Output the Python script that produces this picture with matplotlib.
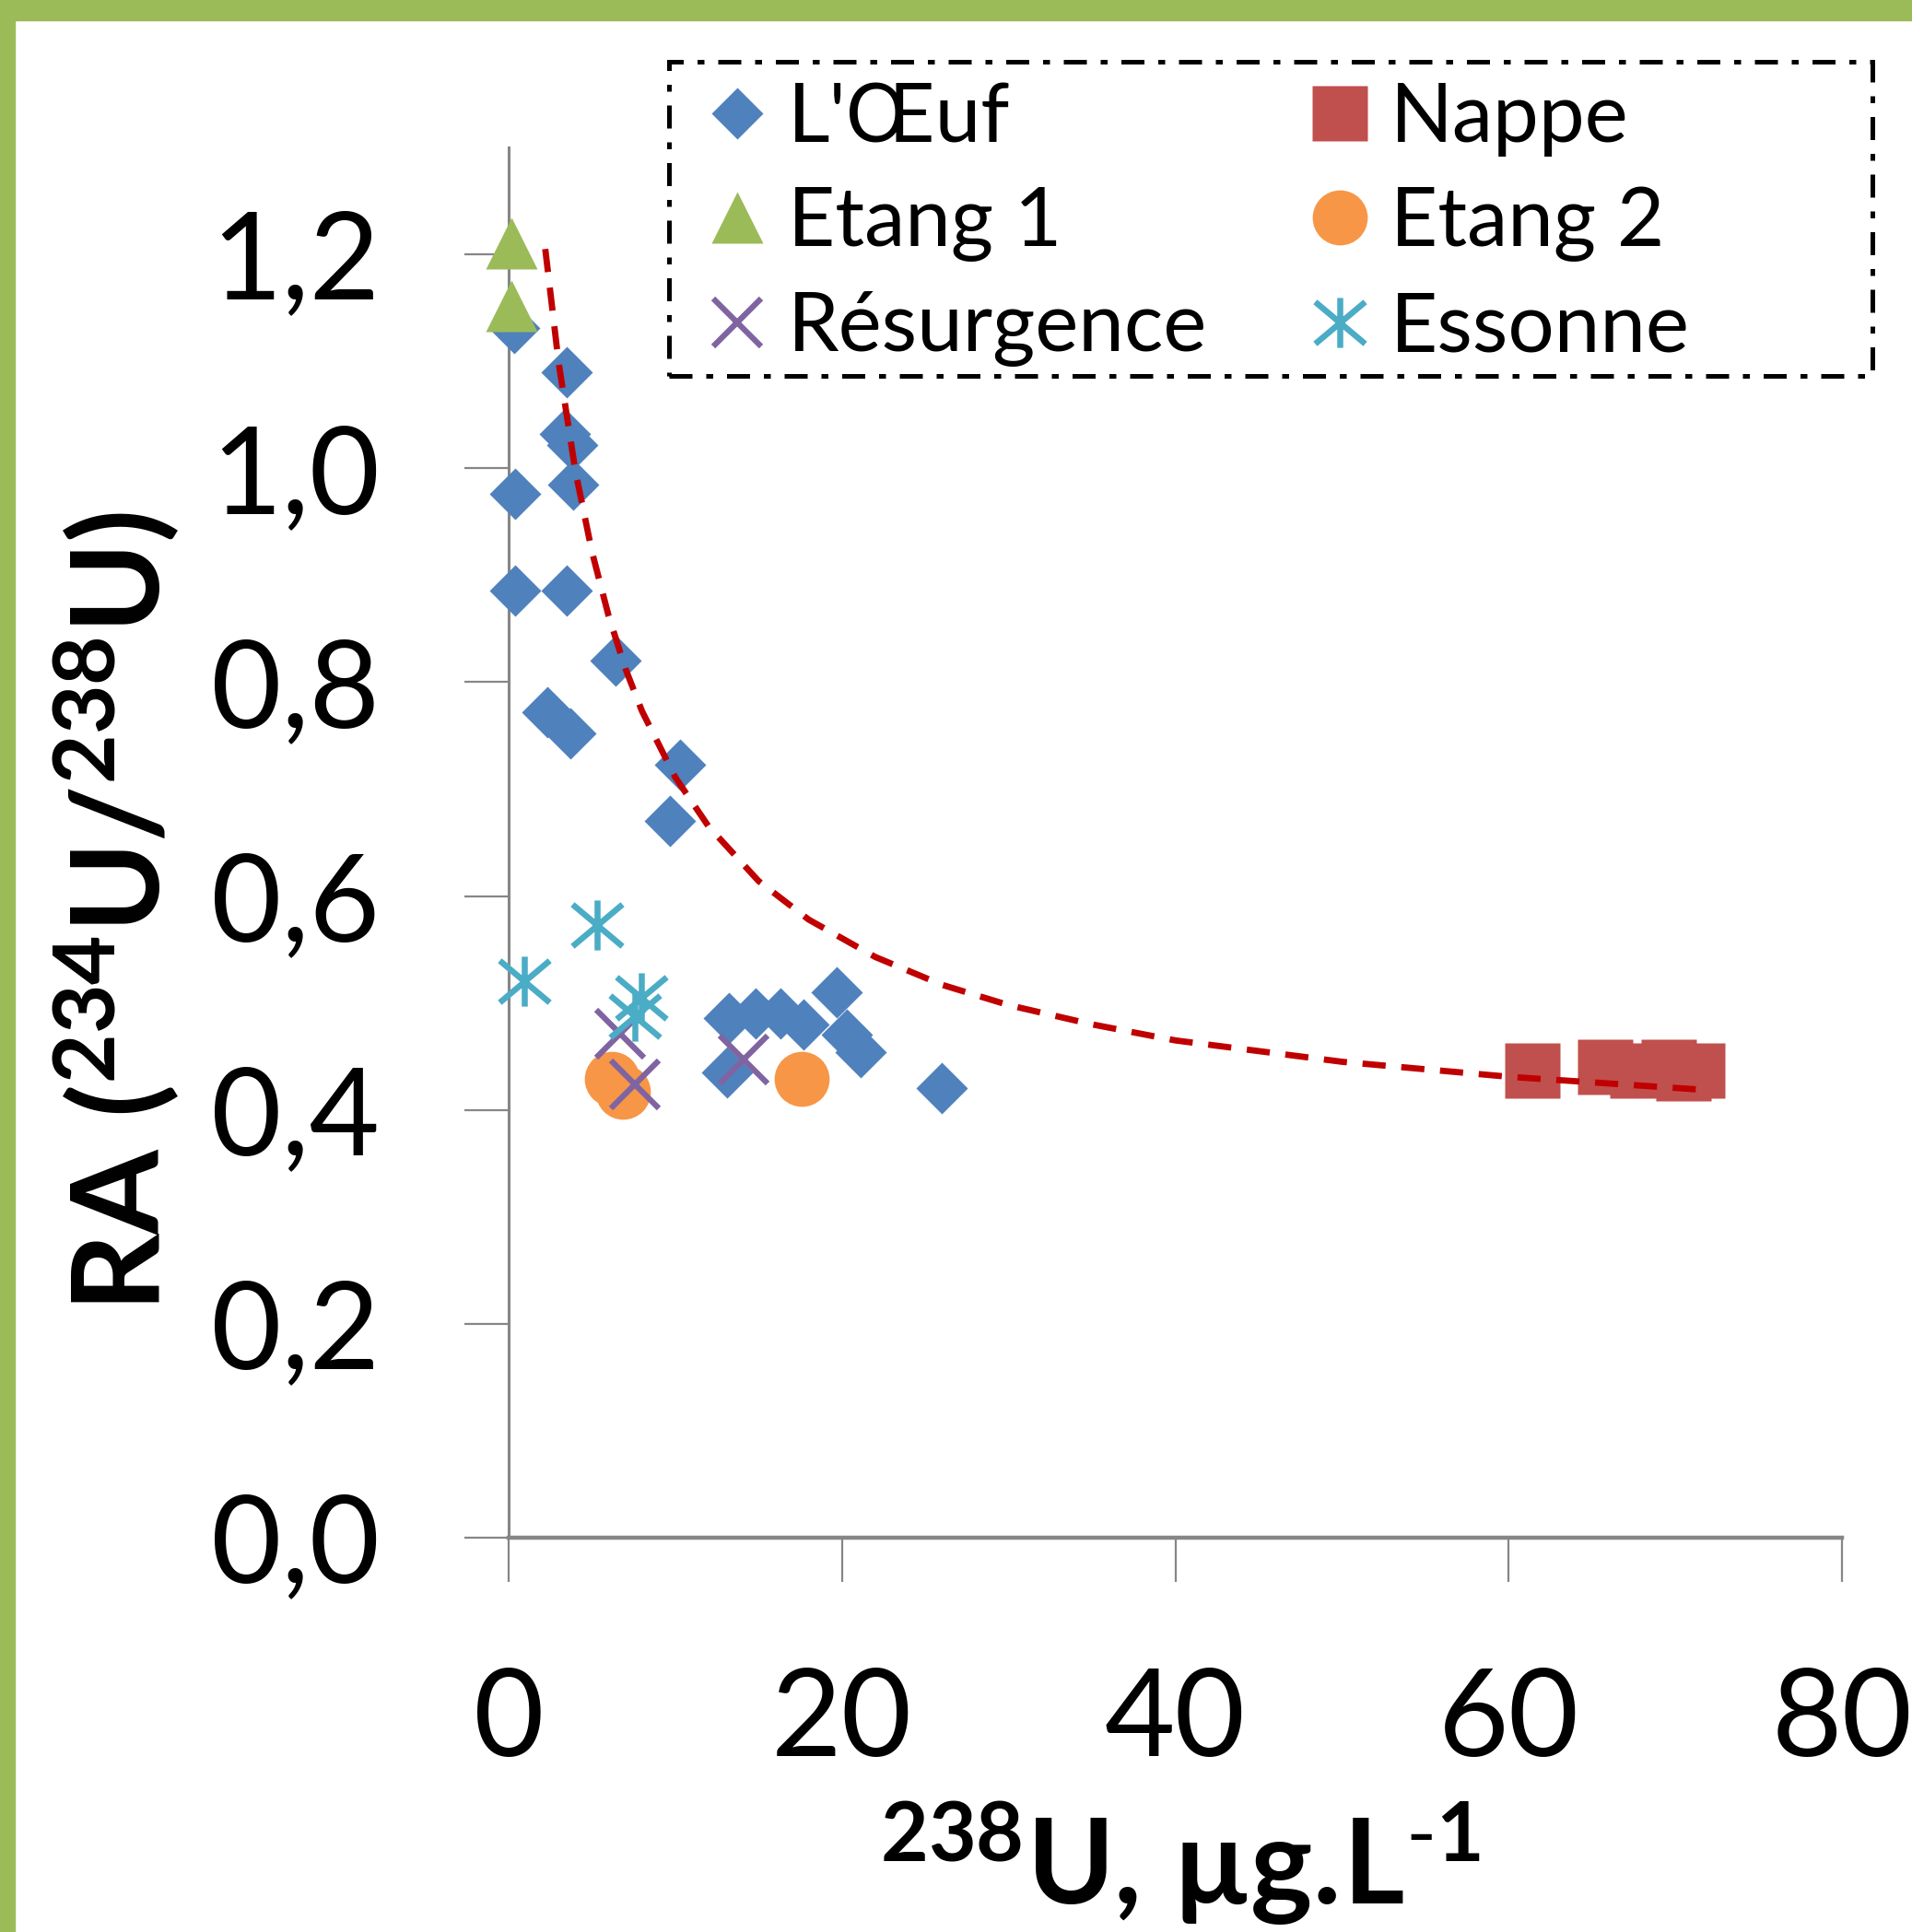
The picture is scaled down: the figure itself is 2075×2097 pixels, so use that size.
import matplotlib
matplotlib.use("Agg")
import matplotlib.pyplot as plt
from matplotlib.patches import Rectangle
from matplotlib.path import Path

plt.rcParams["font.family"] = ["Lato", "DejaVu Sans"]
plt.rcParams["mathtext.fontset"] = "custom"
plt.rcParams["mathtext.rm"] = "Lato"
plt.rcParams["mathtext.bf"] = "Lato:bold"
plt.rcParams["mathtext.it"] = "Lato:italic"

# values (x: 238U in ug/L, y: activity ratio)
oeuf_x = [0.33, 3.5, 3.4, 3.8, 3.9, 0.4, 0.4, 3.5, 6.4, 2.3, 3.7, 10.3, 9.7,
          13.2, 14.8, 16.3, 17.7, 19.7, 20.3, 21.1, 13.1, 26.0]
oeuf_y = [1.131, 1.09, 1.032, 1.022, 0.985, 0.976, 0.886, 0.886, 0.82, 0.772, 0.752, 0.723, 0.67,
          0.486, 0.49, 0.49, 0.48, 0.51, 0.47, 0.454, 0.435, 0.42]

nappe_x = [61.4, 65.8, 67.7, 69.6, 70.5, 71.3]
nappe_y = [0.437, 0.440, 0.437, 0.440, 0.434, 0.437]

etang1_x = [0.17, 0.17]
etang1_y = [1.21, 1.152]

etang2_x = [6.2, 6.85, 17.6]
etang2_y = [0.429, 0.417, 0.429]

resurg_x = [6.7, 7.55, 14.1]
resurg_y = [0.471, 0.424, 0.447]

essonne_x = [0.95, 5.3, 7.96, 7.55]
essonne_y = [0.520, 0.573, 0.505, 0.488]

# mixing curve, sampled along the dashed line
curve_x = [2.2, 3, 4, 5, 6, 7, 8, 10, 12, 15, 18, 22, 26, 30, 35, 40, 50, 60, 71.5]
curve_y = [1.205, 1.099, 0.998, 0.922, 0.862, 0.813, 0.773, 0.711, 0.665, 0.614,
           0.578, 0.543, 0.517, 0.498, 0.480, 0.465, 0.445, 0.431, 0.419]

x_ticks = [0, 20, 40, 60, 80]
y_ticks = [0.0, 0.2, 0.4, 0.6, 0.8, 1.0, 1.2]

asterisk = Path([(0, -0.5), (0, 0.5), (-0.5, -0.42), (0.5, 0.42), (-0.5, 0.42), (0.5, -0.42)],
                [Path.MOVETO, Path.LINETO] * 3)

fig = plt.figure(figsize=(20.75, 20.97), dpi=100)
fig.patch.set_facecolor("white")
ax = fig.add_axes([0.266, 0.2041, 0.6974, 0.7196])

kw = dict(ls="none", clip_on=False)
h_oeuf, = ax.plot(oeuf_x, oeuf_y, marker="D", ms=29, color="#4F81BD", mec="none", zorder=3, **kw)
h_nappe, = ax.plot(nappe_x, nappe_y, marker="s", ms=43, color="#C0504D", mec="none", zorder=4, **kw)
h_et1, = ax.plot(etang1_x, etang1_y, marker="^", ms=41, color="#9BBB59", mec="none", zorder=5, **kw)
h_et2, = ax.plot(etang2_x, etang2_y, marker="o", ms=43, color="#F79646", mec="none", zorder=6, **kw)
h_res, = ax.plot(resurg_x, resurg_y, marker="x", ms=37, mew=4.5, color="#8064A2", zorder=7, **kw)
h_ess, = ax.plot(essonne_x, essonne_y, marker=asterisk, ms=39, mew=4.7, mfc="none",
                 mec="#4BACC6", zorder=8, **kw)
ax.plot(curve_x, curve_y, color="#C00000", lw=4.9, dashes=(3.7, 2.5), zorder=9)

ax.set_xlim(0, 80)
ax.set_ylim(0, 1.3)
ax.set_xticks(x_ticks)
ax.set_yticks(y_ticks)
ax.set_yticklabels([f"{v:.1f}".replace(".", ",") for v in y_ticks])
ax.tick_params(axis="both", direction="out", length=34.6, width=1.6, color="#868686",
               labelsize=95, pad=66)
for side in ("top", "right"):
    ax.spines[side].set_visible(False)
ax.spines["left"].set_color("#868686")
ax.spines["left"].set_linewidth(2.2)
ax.spines["bottom"].set_color("#868686")
ax.spines["bottom"].set_linewidth(3.2)

fig.text(0.0612, 0.528, r"$\mathbf{RA\ (^{234}U/^{238}U)}$", rotation=90, fontsize=95,
         ha="center", va="center")
fig.text(0.617, 0.0143, r"$\mathbf{^{238}U{,}\ µg.\!L^{\text{-}1}}$", fontsize=92,
         ha="center", va="baseline")

ax.legend([h_oeuf, h_et1, h_res, h_nappe, h_et2, h_ess],
          ["L'Œuf", "Etang 1", "Résurgence", "Nappe", "Etang 2", "Essonne"],
          ncol=2, loc="upper left", bbox_to_anchor=(0.3684, 0.9580), bbox_transform=fig.transFigure,
          frameon=False, borderpad=0, fontsize=64, handlelength=0.8, handletextpad=0.22,
          labelspacing=0.35, columnspacing=1.215, borderaxespad=0)

fig.patches.append(Rectangle((0.3499, 0.8054), 0.6294, 0.1626, transform=fig.transFigure,
                             fill=False, ec="black", lw=3.6, ls=(0, (5, 3, 1.5, 3)), zorder=10))

# green slide frame on top and left
fig.patches.append(Rectangle((0, 1 - 22 / 2097), 1, 22 / 2097, transform=fig.transFigure,
                             color="#9BBB59", zorder=0))
fig.patches.append(Rectangle((0, 0), 16 / 2075, 1, transform=fig.transFigure,
                             color="#9BBB59", zorder=0))

fig.savefig("out.png", dpi=100)
